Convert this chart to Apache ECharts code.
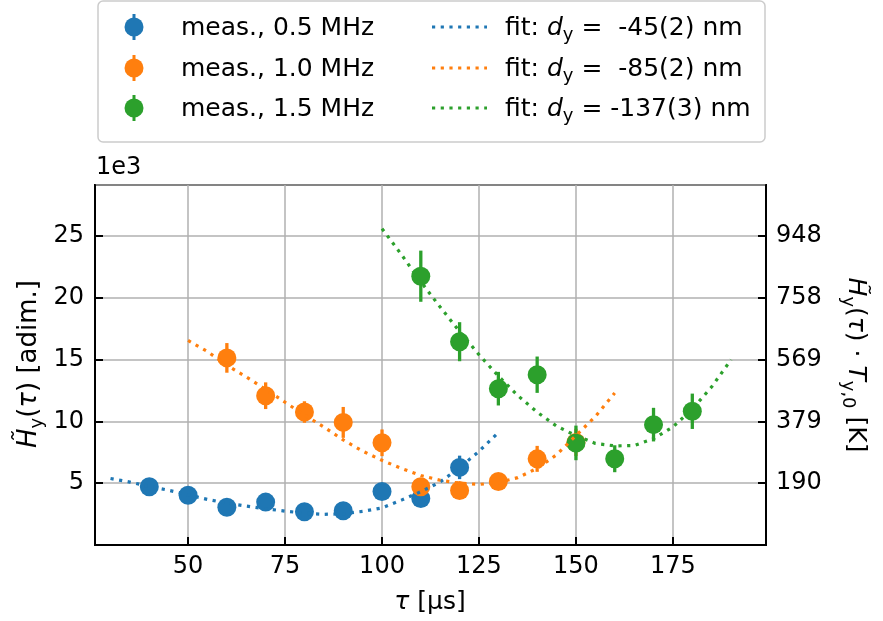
<!DOCTYPE html>
<html>
<head>
<meta charset="utf-8">
<script src="https://cdn.jsdelivr.net/npm/echarts@6/dist/echarts.min.js"></script>
<style>
  html, body { margin: 0; padding: 0; background: #fff; }
  #chart { width: 883px; height: 621px; }
</style>
</head>
<body>
<div id="chart"></div>
<script>
// measured points (tau in us, H in units of 1e3) with error bars
const tau05 = [40, 50, 60, 70, 80, 90, 100, 110, 120]
const h05 = [4.71, 4.03, 3.06, 3.47, 2.69, 2.77, 4.33, 3.76, 6.28]
const err05 = [0.3, 0.3, 0.3, 0.3, 0.3, 0.3, 0.4, 0.5, 0.95]

const tau10 = [60, 70, 80, 90, 100, 110, 120, 130, 140, 150]
const h10 = [15.14, 12.08, 10.76, 9.92, 8.27, 4.72, 4.41, 5.14, 6.97, 8.3]
const err10 = [1.2, 1.08, 0.87, 1.25, 1.08, 0.4, 0.4, 0.4, 1.05, 1.1]

const tau15 = [110, 120, 130, 140, 150, 160, 170, 180]
const h15 = [21.75, 16.45, 12.65, 13.78, 8.26, 6.98, 9.74, 10.82]
const err15 = [2.07, 1.58, 1.36, 1.47, 1.4, 1.09, 1.36, 1.43]

// fit curves
const fitTau05 = [30, 35, 40, 45, 50, 55, 60, 65, 70, 75, 80, 85, 90, 95, 100, 105, 110, 115, 120, 125, 130]
const fit05 = [5.38, 5.09, 4.74, 4.43, 4.06, 3.69, 3.39, 3.15, 2.93, 2.74, 2.57, 2.48, 2.53, 2.72, 3.0, 3.63, 4.31, 5.1, 6.25, 7.58, 9.1]

const fitTau10 = [50, 55, 60, 65, 70, 75, 80, 85, 90, 95, 100, 105, 110, 115, 120, 125, 130, 135, 140, 145, 150, 155, 160]
const fit10 = [16.55, 15.65, 14.55, 13.6, 12.6, 11.55, 10.52, 9.55, 8.5, 7.6, 6.85, 6.2, 5.62, 5.24, 5.0, 4.9, 5.05, 5.45, 6.2, 7.3, 8.85, 10.4, 12.3]

const fitTau15 = [100, 105, 110, 115, 120, 125, 130, 135, 140, 145, 150, 155, 160, 165, 170, 175, 180, 185, 190]
const fit15 = [25.6, 23.5, 21.3, 19.25, 17.28, 15.4, 13.67, 12.1, 10.75, 9.62, 8.85, 8.22, 8.02, 8.05, 8.6, 9.55, 11.0, 12.8, 15.0]

const xTicks = [50, 75, 100, 125, 150, 175]
const rightTicks = [5, 10, 15, 20, 25]
const rightLabels = ['190', '379', '569', '758', '948']

const measNames = ['meas., 0.5 MHz', 'meas., 1.0 MHz', 'meas., 1.5 MHz']
const fitValues = [' -45(2) nm', ' -85(2) nm', '-137(3) nm']
const colors = ['#1f77b4', '#ff7f0e', '#2ca02c']

const FONT = 'DejaVu Sans'
const TICK = 24
const dotted = [3.2, 5.5]

const zip = (xs, ys, es) => xs.map((x, i) => es ? [x, ys[i], es[i]] : [x, ys[i]])

const errorBarSeries = (data, color) => {
    return {
        type: 'custom',
        data: data,
        renderItem: (params, api) => {
            const x = api.value(0), y = api.value(1), e = api.value(2)
            const top = api.coord([x, y + e])
            const bot = api.coord([x, y - e])
            return {
                type: 'line',
                shape: { x1: top[0], y1: top[1], x2: bot[0], y2: bot[1] },
                style: { stroke: color, lineWidth: 3.3 }
            }
        }
    }
}

const pointSeries = (data, color) => {
    return {
        type: 'scatter',
        data: data,
        symbol: 'circle',
        symbolSize: 19,
        itemStyle: { color: color, opacity: 1 }
    }
}

const fitSeries = (data, color) => {
    return {
        type: 'line',
        data: data,
        showSymbol: false,
        symbol: 'none',
        lineStyle: { color: color, width: 3.2, type: dotted, cap: 'butt' }
    }
}

const makeRich = (size) => {
    return {
        i: { fontStyle: 'italic', fontSize: size, fontFamily: FONT, lineHeight: size * 1.3, fill: '#000' },
        s: { fontSize: Math.round(size * 0.7), fontFamily: FONT, lineHeight: size * 0.7, verticalAlign: 'bottom', fill: '#000' }
    }
}

const textEl = (text, x, y, size, opts) => {
    opts = opts || {}
    return {
        type: 'text',
        x: x,
        y: y,
        rotation: opts.rotation || 0,
        style: {
            text: text,
            fontSize: size,
            fontFamily: FONT,
            lineHeight: size * 1.3,
            fill: '#000',
            align: opts.align || 'left',
            verticalAlign: 'middle',
            rich: makeRich(size)
        }
    }
}

// legend drawn by hand: box, markers, dotted samples, labels
const legendRows = [27, 68, 108]
const LEG = 25
let legend = [{
    type: 'rect',
    shape: { x: 98, y: 1, width: 667, height: 141, r: 5 },
    style: { fill: 'rgba(255,255,255,0.8)', stroke: '#cccccc', lineWidth: 1.5 }
}]
legendRows.forEach((y, i) => {
    legend.push({ type: 'line', shape: { x1: 134, y1: y - 13, x2: 134, y2: y + 13 }, style: { stroke: colors[i], lineWidth: 3 } })
    legend.push({ type: 'circle', shape: { cx: 134, cy: y, r: 9.5 }, style: { fill: colors[i] } })
    legend.push(textEl(measNames[i], 181, y + 1, LEG))
    legend.push({ type: 'line', shape: { x1: 432, y1: y, x2: 487, y2: y }, style: { stroke: colors[i], lineWidth: 3.2, lineDash: dotted } })
    legend.push(textEl('fit: {i|d}{s|y} = ' + fitValues[i], 505, y + 1, LEG))
})

const titles = [
    textEl('1e3', 96, 168, TICK),
    textEl('{i|τ} [μs]', 430, 602, 25, { align: 'center' }),
    textEl('{i|H̃}{s|y}({i|τ}) [adim.]', 29, 364, 26, { align: 'center', rotation: Math.PI / 2 }),
    textEl('{i|H̃}{s|y}({i|τ}) · {i|T}{s|y,0} [K]', 855, 365, 25, { align: 'center', rotation: -Math.PI / 2 })
]

const axisLine = { show: true, lineStyle: { color: '#000', width: 2 } }
const tickStyle = { color: '#000', width: 2 }

const option = {
    animation: false,
    backgroundColor: '#fff',
    grid: { left: 95, right: 117, top: 185, bottom: 76, show: true, borderColor: '#000', borderWidth: 2, backgroundColor: 'transparent' },
    xAxis: {
        type: 'value',
        min: 26,
        max: 199,
        axisLine: axisLine,
        axisTick: { inside: true, length: 8, lineStyle: tickStyle, customValues: xTicks },
        axisLabel: { customValues: xTicks, fontSize: TICK, fontFamily: FONT, color: '#000', margin: 10 },
        splitLine: { show: true, lineStyle: { color: '#b0b0b0', width: 1.5 } }
    },
    yAxis: [
        {
            type: 'value',
            min: 0,
            max: 29.13,
            interval: 5,
            axisLine: axisLine,
            axisTick: { inside: true, length: 8, lineStyle: tickStyle },
            axisLabel: {
                fontSize: TICK, fontFamily: FONT, color: '#000', margin: 11,
                showMinLabel: false, showMaxLabel: false,
                formatter: v => (v > 0 && v < 29) ? String(v) : ''
            },
            splitLine: { show: true, lineStyle: { color: '#b0b0b0', width: 1.5 } }
        },
        {
            type: 'value',
            position: 'right',
            min: 0,
            max: 29.13,
            interval: 5,
            axisLine: axisLine,
            axisTick: { inside: true, length: 8, lineStyle: tickStyle },
            axisLabel: {
                fontSize: TICK, fontFamily: FONT, color: '#000', margin: 10,
                showMinLabel: false, showMaxLabel: false,
                formatter: v => {
                    const k = rightTicks.indexOf(v)
                    return k >= 0 ? rightLabels[k] : ''
                }
            },
            splitLine: { show: false }
        }
    ],
    graphic: legend.concat(titles),
    series: [
        errorBarSeries(zip(tau05, h05, err05), colors[0]),
        pointSeries(zip(tau05, h05), colors[0]),
        errorBarSeries(zip(tau10, h10, err10), colors[1]),
        pointSeries(zip(tau10, h10), colors[1]),
        errorBarSeries(zip(tau15, h15, err15), colors[2]),
        pointSeries(zip(tau15, h15), colors[2]),
        fitSeries(zip(fitTau05, fit05), colors[0]),
        fitSeries(zip(fitTau10, fit10), colors[1]),
        fitSeries(zip(fitTau15, fit15), colors[2])
    ]
}

const chart = echarts.init(document.getElementById('chart'), null, { renderer: 'canvas' })
chart.setOption(option)
</script>
</body>
</html>
